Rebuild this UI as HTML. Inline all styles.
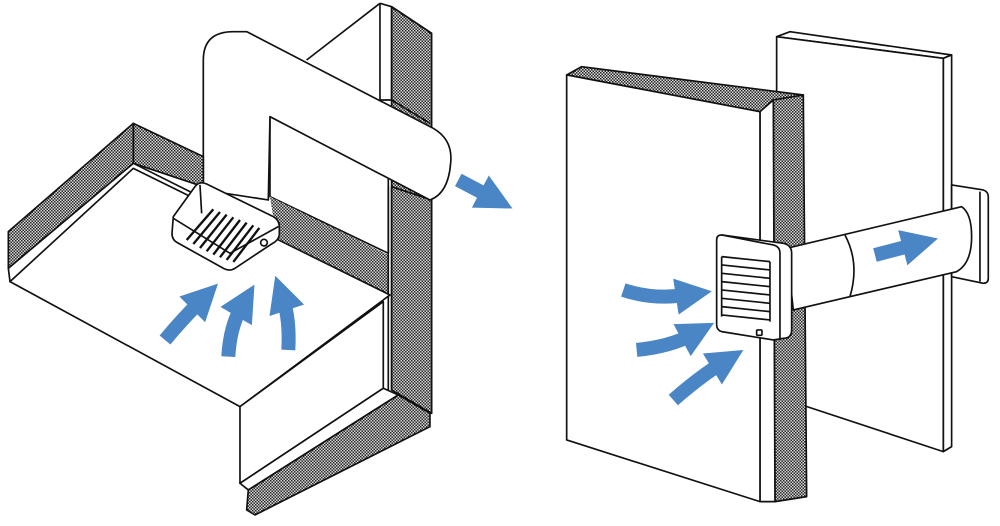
<!DOCTYPE html>
<html><head><meta charset="utf-8"><style>html,body{margin:0;padding:0;background:#fff}svg{display:block}</style></head>
<body>
<svg width="1000" height="526" viewBox="0 0 1000 526" xmlns="http://www.w3.org/2000/svg">
<defs>
<pattern id="h" width="9" height="9" patternUnits="userSpaceOnUse">
<rect width="9" height="9" fill="#ddd"/>
<rect x="0" y="0" width="4.5" height="4.5" fill="#222"/>
<rect x="4.5" y="4.5" width="4.5" height="4.5" fill="#222"/>
</pattern>
<marker id="ah" viewBox="0 0 10 10" refX="3" refY="5" markerWidth="2.6" markerHeight="2.6" orient="auto"><path d="M0,0 L10,5 L0,10 Z" fill="#4a86c5"/></marker>
</defs>
<g stroke="#111" stroke-width="5" stroke-linejoin="round" fill="#fff" transform="scale(0.3333)">
  <polygon points="920,180 1140,10 1140,1170 920,1170" stroke="none"/>
  <line x1="920" y1="180" x2="1140" y2="10"/>
  <polygon points="1175,20 1295,100 1295,1240 1175,1170" fill="url(#h)"/>
  <polyline points="1140,10 1175,20 1295,100" fill="none"/>
  <line x1="1140" y1="10" x2="1140" y2="300"/>
  <line x1="1175" y1="20" x2="1175" y2="300"/>
  <polyline points="1140,300 1175,300 1290,370" fill="none"/>
  <polygon points="810,350 1165,530 1165,760 810,590"/>
  <polygon points="810,590 1165,765 1165,885 830,715" fill="url(#h)" stroke="none"/>
  <polygon points="1175,560 1295,600 1295,1240 1175,1170" fill="url(#h)"/>
  <line x1="1165" y1="560" x2="1165" y2="1170"/>
  <path d="M610,570 L610,180 Q610,95 700,95 L740,95 L1300,385 Q1360,420 1352,490 Q1345,580 1290,600 L810,350 L805,600 Z"/>
  <polygon points="400,370 25,695 25,805 400,490" fill="url(#h)"/>
  <polygon points="400,370 610,470 610,560 400,490" fill="url(#h)"/>
  <line x1="400" y1="370" x2="400" y2="495"/>
  <polygon points="25,805 400,490 590,585 30,845" />
  <polygon points="30,845 400,505 1170,885 720,1220"/>
  <polygon points="720,1220 1150,905 1150,1165 720,1450"/>
  <polygon points="720,1450 1150,1165 1195,1185 745,1470"/>
  <polygon points="745,1470 1195,1185 1290,1240 1290,1280 765,1545 740,1530" fill="url(#h)"/>
  <path d="M520,650 L585,560 Q598,542 620,552 L820,650 Q838,660 838,680 L838,705 Q835,722 815,732 L705,805 Q690,815 672,806 L532,728 Q516,720 516,700 Z"/>
  <polyline points="520,655 690,760 835,680" fill="none"/>
  <line x1="600" y1="555" x2="605" y2="640"/>
  <g stroke-width="7">
  <line x1="640" y1="628" x2="560" y2="720"/><line x1="660" y1="636" x2="580" y2="732"/>
  <line x1="680" y1="644" x2="600" y2="744"/><line x1="700" y1="652" x2="620" y2="754"/>
  <line x1="720" y1="660" x2="640" y2="764"/><line x1="740" y1="668" x2="660" y2="772"/>
  <line x1="760" y1="676" x2="680" y2="780"/><line x1="778" y1="684" x2="700" y2="786"/>
  </g>
  <circle cx="792" cy="728" r="10"/>
  <g stroke="#4a86c5" stroke-width="42" fill="none" marker-end="url(#ah)" stroke-linecap="butt">
    <path d="M495,1020 Q545,960 600,905"/>
    <path d="M685,1070 Q690,980 725,920"/>
    <path d="M865,1050 Q870,960 850,900"/>
    <path d="M1375,540 L1470,590"/>
  </g>
</g>
<g stroke="#111" stroke-width="5" stroke-linejoin="round" fill="#fff" transform="translate(540,0) scale(0.3333)">
  <polygon points="710,110 750,95 1235,165 1210,175"/>
  <polygon points="1210,175 1235,165 1235,1340 1210,1355"/>
  <polygon points="710,110 1210,175 1210,1355 710,1190"/>
  <path d="M1235,555 L1330,570 Q1345,575 1345,590 L1345,835 Q1345,850 1330,850 L1235,830 Z"/>
  <line x1="1320" y1="575" x2="1320" y2="845"/>
  <polygon points="80,225 125,200 790,285 660,335" fill="url(#h)"/>
  <polygon points="700,300 790,285 800,1490 705,1505" fill="url(#h)"/>
  <polygon points="660,335 700,300 705,1505 660,1505"/>
  <polygon points="80,225 660,335 660,1505 80,1320"/>
  <path d="M740,745 L1265,620 Q1295,640 1295,710 Q1295,790 1250,815 L760,930 Z"/>
  <path d="M915,705 Q960,790 930,890" fill="none"/>
  <path d="M545,705 L730,730 Q755,735 755,760 L755,990 Q755,1015 730,1015 L700,1020 L545,995 Q530,990 530,975 L530,720 Q530,705 545,705 Z"/>
  <path d="M545,705 L700,735 Q720,740 720,760 L720,1020" fill="none"/>
  <g stroke-width="5">
  <line x1="545" y1="770" x2="690" y2="785"/><line x1="545" y1="795" x2="690" y2="810"/>
  <line x1="545" y1="820" x2="690" y2="835"/><line x1="545" y1="845" x2="690" y2="860"/>
  <line x1="545" y1="870" x2="690" y2="885"/><line x1="545" y1="895" x2="690" y2="910"/>
  <line x1="545" y1="920" x2="690" y2="935"/><line x1="545" y1="945" x2="690" y2="960"/>
  <line x1="545" y1="770" x2="545" y2="950"/><line x1="690" y1="785" x2="690" y2="965"/>
  </g>
  <rect x="650" y="990" width="16" height="16" rx="3"/>
  <g stroke="#4a86c5" stroke-width="42" fill="none" marker-end="url(#ah)">
    <path d="M250,870 Q340,900 440,885"/>
    <path d="M290,1050 Q390,1040 455,1005"/>
    <path d="M400,1200 Q480,1130 545,1090"/>
    <path d="M1005,765 L1120,735"/>
  </g>
</g>
</svg>
</body></html>
